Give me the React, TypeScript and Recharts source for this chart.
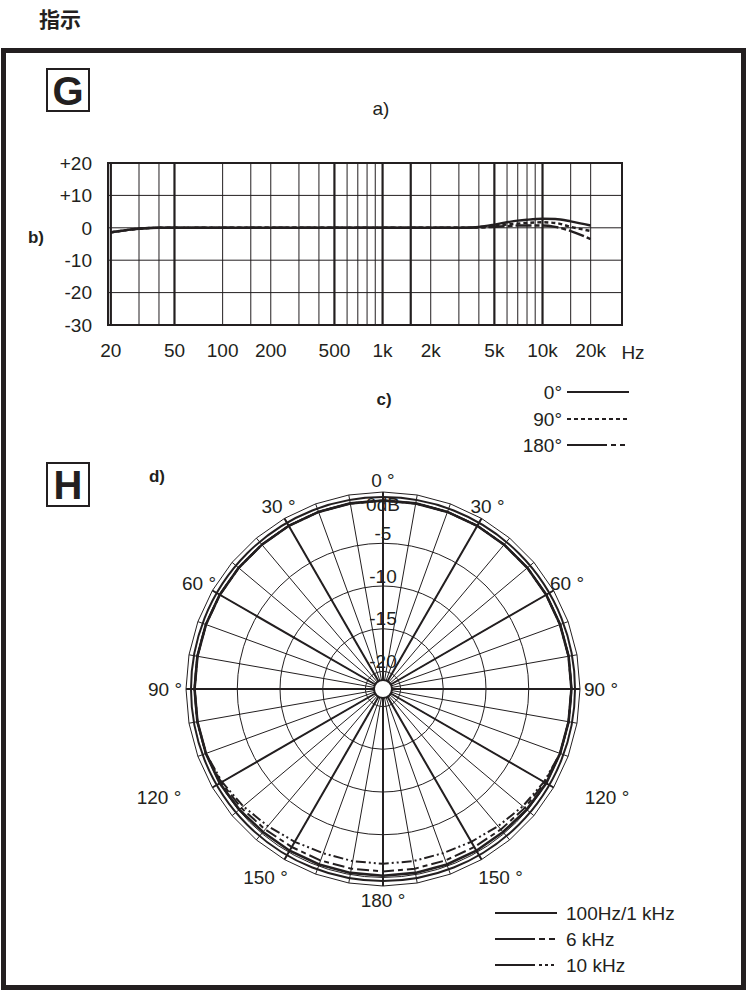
import React from 'react';
import {
  LineChart, Line, XAxis, YAxis, ReferenceLine, ReferenceArea,
  RadarChart, Radar, PolarGrid, PolarAngleAxis, PolarRadiusAxis,
} from 'recharts';

const FONT = '"Liberation Sans", Arial, Helvetica, sans-serif';
const INK = '#231f20';

// ---- G: frequency response (dB vs Hz)
const FREQS = [20, 25, 30, 40, 50, 100, 1000, 3000, 4000, 5000, 6000, 7000, 8000, 10000, 12000, 15000, 20000];
const RESP_0 = [-1.4, -0.7, -0.3, 0, 0, 0, 0, 0, 0.3, 1.0, 1.7, 2.2, 2.5, 2.8, 2.7, 2.0, 0.7];
const RESP_90 = [-1.4, -0.7, -0.3, 0, 0, 0, 0, 0, 0.1, 0.5, 1.0, 1.3, 1.5, 1.7, 1.5, 0.3, -1.0];
const RESP_180 = [-1.4, -0.7, -0.3, 0, 0, 0, 0, 0, 0.1, 0.3, 0.5, 0.7, 0.7, 0.7, 0.3, -1.0, -3.5];

const FREQ_TICKS = [20, 50, 100, 200, 500, 1000, 2000, 5000, 10000, 20000];
const FREQ_LABELS = ['20', '50', '100', '200', '500', '1k', '2k', '5k', '10k', '20k'];
const GRID_THIN = [30, 40, 100, 150, 200, 300, 400, 600, 700, 800, 900, 2000, 3000, 4000, 6000, 7000, 8000, 9000, 15000, 20000];
const GRID_THICK = [20, 50, 500, 1000, 1500, 5000, 10000];
const DB_TICKS = [20, 10, 0, -10, -20, -30];
const DB_GRID = [10, 0, -10, -20];
const F_DOMAIN = [19.2, 31400];

// ---- H: polar pattern (dB vs angle)
const POLAR_ANGLES = [0, 10, 20, 30, 40, 50, 60, 70, 80, 90, 100, 110, 120, 130, 140, 150, 160, 170,
  180, 190, 200, 210, 220, 230, 240, 250, 260, 270, 280, 290, 300, 310, 320, 330, 340, 350];
const POLAR_1K = [0, 0, 0, 0, 0, 0, 0, 0, 0, 0, 0, 0, 0, -0.1, -0.2, -0.2, -0.2, -0.2,
  -0.2, -0.2, -0.2, -0.2, -0.2, -0.1, 0, 0, 0, 0, 0, 0, 0, 0, 0, 0, 0, 0];
const POLAR_6K = [0, 0, 0, 0, 0, 0, 0, 0, 0, 0, 0, 0, -0.2, -0.4, -0.6, -0.7, -0.7, -0.7,
  -0.7, -0.7, -0.7, -0.7, -0.6, -0.4, -0.2, 0, 0, 0, 0, 0, 0, 0, 0, 0, 0, 0];
const POLAR_10K = [0, 0, 0, 0, 0, 0, 0, 0, 0, 0, 0, 0, -0.3, -0.7, -1.1, -1.4, -1.6, -1.6,
  -1.6, -1.6, -1.6, -1.4, -1.1, -0.7, -0.3, 0, 0, 0, 0, 0, 0, 0, 0, 0, 0, 0];
const RING_TICKS = [0, -5, -10, -15, -20];
const SPOKES_THIN = [0, 10, 20, 30, 40, 50, 60, 70, 80, 90, 100, 110, 120, 130, 140, 150, 160, 170,
  180, 190, 200, 210, 220, 230, 240, 250, 260, 270, 280, 290, 300, 310, 320, 330, 340, 350];
const SPOKES_THICK = [0, 30, 60, 90, 120, 150, 180, 210, 240, 270, 300, 330];

const R_IN = 9;
const R_OUT = 197;
const DB_MIN = -20.87;
const DB_MAX = 0.99;
const EDGE_DB = 0.41;
const rOf = (db: number) => R_IN + ((db - DB_MIN) / (DB_MAX - DB_MIN)) * (R_OUT - R_IN);

// angle labels sit a little off the tick point in the print: [outward x, down y]
const LABEL_NUDGE: Record<number, [number, number]> = {
  0: [0, 0], 30: [0, -2], 60: [3, -1], 90: [9, 0], 120: [43, 4], 150: [13, 8], 180: [0, 2],
};

const G_SERIES = [
  { key: 'a0', label: '0°', data: RESP_0, dash: undefined as string | undefined, tail: undefined as string | undefined },
  { key: 'a90', label: '90°', data: RESP_90, dash: '4 3', tail: undefined },
  { key: 'a180', label: '180°', data: RESP_180, dash: '16 3 5 3', tail: '5 4' },
];

const H_SERIES = [
  { key: 'k1', label: '100Hz/1 kHz', data: POLAR_1K, dash: undefined as string | undefined, width: 2.6, tail: undefined as string | undefined },
  { key: 'k6', label: '6 kHz', data: POLAR_6K, dash: '12 4 5 4', width: 2, tail: '6 4' },
  { key: 'k10', label: '10 kHz', data: POLAR_10K, dash: '10 3 2 3 2 3', width: 2, tail: '3 3' },
];

const respData = FREQS.map((f, i) => {
  const row: any = { f };
  G_SERIES.forEach((s) => { row[s.key] = s.data[i]; });
  return row;
});

const polarData = POLAR_ANGLES.map((angle, i) => {
  const row: any = { angle };
  H_SERIES.forEach((s) => { row[s.key] = s.data[i]; });
  return row;
});

const angleTick = (props: any) => {
  const { x, y, payload } = props;
  const deg = Number(payload.value);
  if (deg % 30 !== 0) return <g />;
  const shown = deg <= 180 ? deg : 360 - deg;
  const side = deg === 0 || deg === 180 ? 0 : deg < 180 ? 1 : -1;
  const [nx, ny] = LABEL_NUDGE[shown] ?? [0, 0];
  return (
    <text x={x + side * nx} y={y + ny} textAnchor="middle"
      dominantBaseline="central" fontSize={19} fill={INK}>{`${shown} °`}</text>
  );
};

const ringTick = (props: any) => {
  const { x, y, payload } = props;
  const v = Number(payload.value);
  return (
    <text x={x} y={y + (v === 0 ? 4 : -10)} textAnchor="middle" dominantBaseline="central"
      fontSize={19} fill={INK}>{v === 0 ? '0dB' : String(v)}</text>
  );
};

// legend sample: solid line, optionally followed by a dashed tail
function Sample({ x, y, dash, tail }: { x: number; y: number; dash?: string; tail?: string }) {
  if (tail) {
    return (
      <g stroke={INK} strokeWidth={2}>
        <line x1={x} y1={y} x2={x + 40} y2={y} />
        <line x1={x + 44} y1={y} x2={x + 62} y2={y} strokeDasharray={tail} />
      </g>
    );
  }
  return <line x1={x} y1={y} x2={x + 62} y2={y} stroke={INK} strokeWidth={2} strokeDasharray={dash} />;
}

export default function App() {
  return (
    <div style={{ position: 'absolute', left: 0, top: 0, width: 747, height: 991, background: '#fff', fontFamily: FONT, color: INK }}>
      {/* G: frequency response */}
      <div style={{ position: 'absolute', left: 0, top: 0 }}>
        <LineChart width={747} height={380} data={respData} margin={{ top: 163, right: 125, bottom: 25, left: 48 }}>
          <XAxis dataKey="f" type="number" scale="log" domain={F_DOMAIN} allowDataOverflow ticks={FREQ_TICKS} interval={0}
            tickFormatter={(v: number) => FREQ_LABELS[FREQ_TICKS.indexOf(v)] ?? ''}
            axisLine={false} tickLine={false} tickSize={10} tickMargin={9} height={30}
            tick={{ fill: INK, fontSize: 19 }} />
          <YAxis type="number" domain={[-30, 20]} ticks={DB_TICKS} interval={0} allowDataOverflow
            tickFormatter={(v: number) => (v > 0 ? `+${v}` : String(v))}
            axisLine={false} tickLine={false} tickSize={8} tickMargin={8} width={60}
            tick={{ fill: INK, fontSize: 19 }} />
          {DB_GRID.map((d) => <ReferenceLine key={`h${d}`} y={d} stroke={INK} strokeWidth={1} />)}
          {GRID_THIN.map((f) => <ReferenceLine key={`t${f}`} x={f} stroke={INK} strokeWidth={1} />)}
          {GRID_THICK.map((f) => <ReferenceLine key={`k${f}`} x={f} stroke={INK} strokeWidth={2.2} />)}
          <ReferenceArea x1={F_DOMAIN[0]} x2={F_DOMAIN[1]} y1={-30} y2={20} fill="none" fillOpacity={0} stroke={INK} strokeWidth={2} />
          {G_SERIES.map((s) => (
            <Line key={s.key} type="monotone" dataKey={s.key} stroke={INK} strokeWidth={2.4} strokeDasharray={s.dash}
              dot={false} isAnimationActive={false} />
          ))}
        </LineChart>
      </div>

      {/* H: polar pattern */}
      <div style={{ position: 'absolute', left: 0, top: 440 }}>
        <RadarChart width={747} height={480} cx={383} cy={249} innerRadius={R_IN} outerRadius={R_OUT} data={polarData}
          margin={{ top: 0, right: 0, bottom: 0, left: 0 }}>
          <PolarGrid gridType="circle" polarAngles={SPOKES_THIN} stroke={INK} strokeWidth={1} />
          <PolarGrid gridType="circle" polarAngles={SPOKES_THICK} polarRadius={[rOf(EDGE_DB), R_IN]} stroke={INK} strokeWidth={2} />
          <PolarAngleAxis dataKey="angle" tick={angleTick} tickLine={false} tickSize={12} axisLine={{ stroke: INK, strokeWidth: 1 }} />
          <PolarRadiusAxis angle={90} type="number" domain={[DB_MIN, DB_MAX]} allowDataOverflow ticks={RING_TICKS}
            axisLine={false} tickLine={false} tick={ringTick} />
          {H_SERIES.map((s) => (
            <Radar key={s.key} dataKey={s.key} stroke={INK} strokeWidth={s.width} strokeDasharray={s.dash}
              fill="none" fillOpacity={0} dot={false} isAnimationActive={false} />
          ))}
        </RadarChart>
      </div>

      {/* frame, panel letters, labels, legends */}
      <svg width={747} height={991} style={{ position: 'absolute', left: 0, top: 0, pointerEvents: 'none' }}
        fontFamily={FONT} fill={INK}>
        <text x={39} y={18} dominantBaseline="central" fontSize={21} fontWeight={700}
          fontFamily='"Noto Sans CJK JP", "Noto Sans CJK SC", sans-serif'>指示</text>
        <rect x={3.5} y={50.5} width={740} height={937} fill="none" stroke={INK} strokeWidth={5} />

        <rect x={47} y={69} width={42} height={42} fill="none" stroke={INK} strokeWidth={2} />
        <text x={68} y={91} textAnchor="middle" dominantBaseline="central" fontSize={40} fontWeight={700}>G</text>
        <rect x={47} y={463} width={42} height={43} fill="none" stroke={INK} strokeWidth={2} />
        <text x={68} y={485} textAnchor="middle" dominantBaseline="central" fontSize={40} fontWeight={700}>H</text>

        <text x={381} y={108} textAnchor="middle" dominantBaseline="central" fontSize={19}>a)</text>
        <text x={36} y={237} textAnchor="middle" dominantBaseline="central" fontSize={17} fontWeight={700}>b)</text>
        <text x={384} y={399} textAnchor="middle" dominantBaseline="central" fontSize={17} fontWeight={700}>c)</text>
        <text x={157} y={476} textAnchor="middle" dominantBaseline="central" fontSize={17} fontWeight={700}>d)</text>
        <text x={633} y={352} textAnchor="middle" dominantBaseline="central" fontSize={19}>Hz</text>

        {G_SERIES.map((s, i) => {
          const y = [392, 419, 445][i];
          return (
            <g key={s.key}>
              <text x={562} y={y} textAnchor="end" dominantBaseline="central" fontSize={19}>{s.label}</text>
              <Sample x={567} y={y} dash={s.dash} tail={s.tail} />
            </g>
          );
        })}

        {H_SERIES.map((s, i) => {
          const y = [913, 939, 965][i];
          return (
            <g key={s.key}>
              <Sample x={495} y={y} dash={undefined} tail={s.tail} />
              <text x={566} y={y} dominantBaseline="central" fontSize={19}>{s.label}</text>
            </g>
          );
        })}
      </svg>
    </div>
  );
}
